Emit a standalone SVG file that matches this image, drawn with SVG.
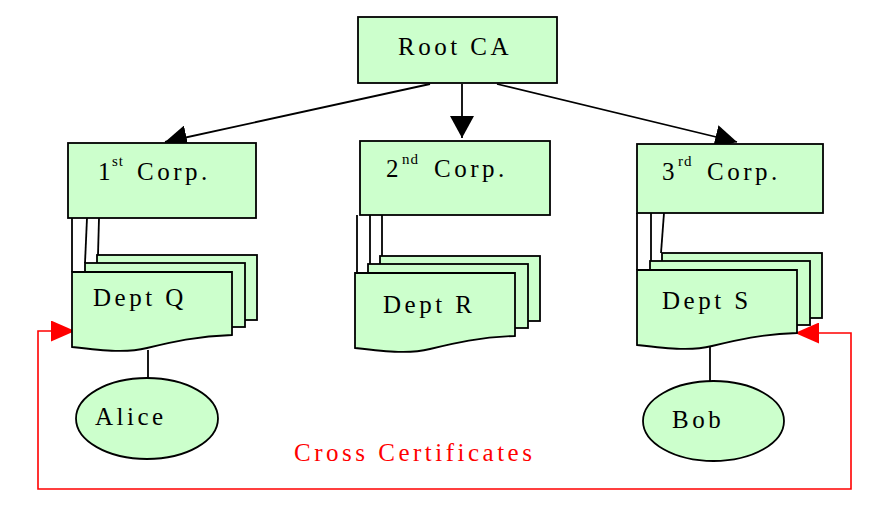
<svg xmlns="http://www.w3.org/2000/svg" xmlns:xlink="http://www.w3.org/1999/xlink" width="872" height="508" viewBox="0 0 872 508">
<style>
.box{fill:#ccffcc;stroke:#000;stroke-width:1.8}
.t{font-family:"Liberation Serif","Times New Roman",serif;font-size:25px;letter-spacing:3.5px;fill:#000}
.n{font-family:"Liberation Serif","Times New Roman",serif;font-size:25px;fill:#000}
.sup{font-family:"Liberation Serif","Times New Roman",serif;font-size:15px;letter-spacing:1px;fill:#000}
.red{font-family:"Liberation Serif","Times New Roman",serif;font-size:25px;letter-spacing:3.5px;fill:#ff0000}
.e{fill:none;stroke:#000;stroke-width:1.8}
.x{fill:none;stroke:#ff0000;stroke-width:1.6}
</style>
<defs>
<marker id="ah" markerUnits="userSpaceOnUse" viewBox="0 0 22 24" refX="22" refY="12" markerWidth="22" markerHeight="24" orient="auto">
<path d="M0,0 L22,12 L0,24 Z" fill="#000"/>
</marker>
<marker id="rh" markerUnits="userSpaceOnUse" viewBox="0 0 24 21" refX="24" refY="10.5" markerWidth="24" markerHeight="21" orient="auto-start-reverse">
<path d="M0,0 L24,10.5 L0,21 Z" fill="#ff0000"/>
</marker>
<g id="docs">
<rect class="box" x="25" y="-17" width="160" height="65"/>
<rect class="box" x="13" y="-9" width="160" height="64"/>
<path class="box" d="M0,0 H160 V63 C125,64 100,70 75,76 C55,81 35,79 0,75 Z"/>
</g>
</defs>
<g id="connectors">
<line class="e" x1="430" y1="84" x2="165" y2="142" marker-end="url(#ah)"/>
<line class="e" x1="462" y1="84" x2="462" y2="138" marker-end="url(#ah)"/>
<line class="e" x1="497" y1="84" x2="737" y2="142" marker-end="url(#ah)"/>
<line class="e" x1="72" y1="218" x2="72" y2="272"/>
<line class="e" x1="87" y1="218" x2="85" y2="263"/>
<line class="e" x1="99" y1="218" x2="98" y2="255"/>
<line class="e" x1="357" y1="215" x2="357" y2="273"/>
<line class="e" x1="370" y1="215" x2="370" y2="265"/>
<line class="e" x1="382" y1="215" x2="382" y2="257"/>
<line class="e" x1="637" y1="213" x2="637" y2="270"/>
<line class="e" x1="651" y1="213" x2="651" y2="261"/>
<line class="e" x1="664" y1="213" x2="661" y2="253"/>
<line class="e" x1="148" y1="350" x2="148" y2="378"/>
<line class="e" x1="710" y1="346" x2="710" y2="381"/>
<path class="x" d="M795,333 H851 V489 H38 V331 H75" marker-start="url(#rh)" marker-end="url(#rh)"/>
<text class="red" x="294" y="461">Cross Certificates</text>
</g>
<g id="root">
<rect class="box" x="358" y="17" width="199" height="66"/>
<text class="t" x="398" y="55">Root CA</text>
</g>
<g id="corp1">
<rect class="box" x="68" y="143" width="188" height="75"/>
<text class="n" x="98" y="180">1</text>
<text class="sup" x="112" y="166">st</text>
<text class="t" x="137" y="180">Corp.</text>
</g>
<g id="corp2">
<rect class="box" x="360" y="141" width="190" height="74"/>
<text class="n" x="386" y="177">2</text>
<text class="sup" x="402" y="164">nd</text>
<text class="t" x="434" y="177">Corp.</text>
</g>
<g id="corp3">
<rect class="box" x="637" y="144" width="186" height="69"/>
<text class="n" x="662" y="180">3</text>
<text class="sup" x="678" y="166">rd</text>
<text class="t" x="707" y="180">Corp.</text>
</g>
<g id="deptQ">
<use xlink:href="#docs" href="#docs" transform="translate(72,272)"/>
<text class="t" x="93" y="306">Dept Q</text>
</g>
<g id="deptR">
<use xlink:href="#docs" href="#docs" transform="translate(355,273)"/>
<text class="t" x="383" y="313">Dept R</text>
</g>
<g id="deptS">
<use xlink:href="#docs" href="#docs" transform="translate(637,270)"/>
<text class="t" x="662" y="309">Dept S</text>
</g>
<g id="alice">
<ellipse class="box" cx="147" cy="418.5" rx="71" ry="40.5"/>
<text class="t" x="95" y="425">Alice</text>
</g>
<g id="bob">
<ellipse class="box" cx="713.5" cy="421" rx="70.5" ry="40"/>
<text class="t" x="672" y="428">Bob</text>
</g>
</svg>
